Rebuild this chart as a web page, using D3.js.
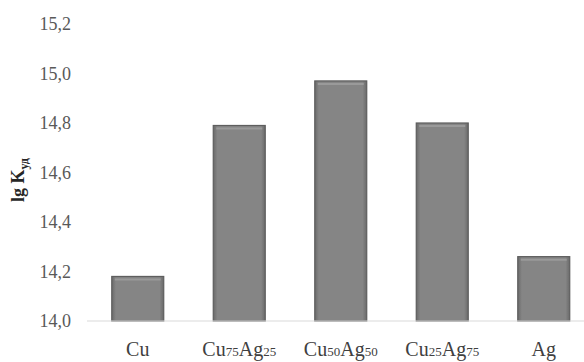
<!DOCTYPE html>
<html>
<head>
<meta charset="utf-8">
<script src="https://cdn.jsdelivr.net/npm/d3@7"></script>
<style>
  html, body { margin: 0; padding: 0; background: #fff; }
  svg { display: block; }
</style>
</head>
<body>
<svg id="chart" width="584" height="362"></svg>
<script>
const categories = ["Cu", "Cu75Ag25", "Cu50Ag50", "Cu25Ag75", "Ag"];
const labelParts = [
  [["Cu", false]],
  [["Cu", false], ["75", true], ["Ag", false], ["25", true]],
  [["Cu", false], ["50", true], ["Ag", false], ["50", true]],
  [["Cu", false], ["25", true], ["Ag", false], ["75", true]],
  [["Ag", false]]
];
const values = [14.18, 14.79, 14.97, 14.80, 14.26];
const yTicks = [14.0, 14.2, 14.4, 14.6, 14.8, 15.0, 15.2];
const yTickLabels = ["14,0", "14,2", "14,4", "14,6", "14,8", "15,0", "15,2"];

const svg = d3.select("#chart");
const font = "'Liberation Serif', 'Times New Roman', serif";

const x = d3.scaleBand().domain(categories).range([87, 594.5])
  .paddingInner(0.488).paddingOuter(0.244);
const y = d3.scaleLinear().domain([14.0, 15.2]).range([321, 24]);

// gradient for bars
const defs = svg.append("defs");
const g = defs.append("linearGradient").attr("id", "barGrad")
  .attr("x1", "0").attr("x2", "1").attr("y1", "0").attr("y2", "0");
g.append("stop").attr("offset", "0").attr("stop-color", "#6a6a6a");
g.append("stop").attr("offset", "0.08").attr("stop-color", "#858585");
g.append("stop").attr("offset", "0.92").attr("stop-color", "#858585");
g.append("stop").attr("offset", "1").attr("stop-color", "#6a6a6a");

// bars
svg.append("g").selectAll("rect").data(values).join("rect")
  .attr("x", (d, i) => x(categories[i]))
  .attr("y", d => y(d))
  .attr("width", x.bandwidth())
  .attr("height", d => y(14.0) - y(d))
  .attr("fill", "url(#barGrad)")
  .attr("stroke", "#5e5e5e")
  .attr("stroke-width", 1.2);

// top highlight
svg.append("g").selectAll("line").data(values).join("line")
  .attr("x1", (d, i) => x(categories[i]) + 3)
  .attr("x2", (d, i) => x(categories[i]) + x.bandwidth() - 3)
  .attr("y1", d => y(d) + 3)
  .attr("y2", d => y(d) + 3)
  .attr("stroke", "#9a9a9a")
  .attr("stroke-width", 2);

// baseline
svg.append("line")
  .attr("x1", 87).attr("x2", 584)
  .attr("y1", y(14.0)).attr("y2", y(14.0))
  .attr("stroke", "#d9d9d9").attr("stroke-width", 1.2);

// y axis (labels only)
const yAxis = d3.axisLeft(y).tickValues(yTicks)
  .tickFormat((d, i) => yTickLabels[i]).tickSize(0).tickPadding(0);
const ya = svg.append("g").attr("transform", "translate(71,0)").call(yAxis);
ya.select(".domain").remove();
ya.selectAll("text")
  .attr("font-family", font).attr("font-size", 18)
  .attr("fill", "#595959");

// x category labels
const xl = svg.append("g");
labelParts.forEach((parts, i) => {
  const t = xl.append("text")
    .attr("x", x(categories[i]) + x.bandwidth() / 2)
    .attr("y", 356)
    .attr("text-anchor", "middle")
    .attr("font-family", font)
    .attr("fill", "#404040");
  parts.forEach(([s, sub]) => {
    t.append("tspan").text(s)
      .attr("font-size", sub ? 13 : 20)
      .attr("dy", null);
  });
});

// y axis title
const yt = svg.append("text")
  .attr("transform", "translate(24,180) rotate(-90)")
  .attr("text-anchor", "middle")
  .attr("font-family", font)
  .attr("font-weight", "bold")
  .attr("font-size", 18)
  .attr("fill", "#262626");
yt.append("tspan").text("lg K");
yt.append("tspan").text("уд").attr("font-size", 12).attr("dy", 4);
</script>
</body>
</html>
